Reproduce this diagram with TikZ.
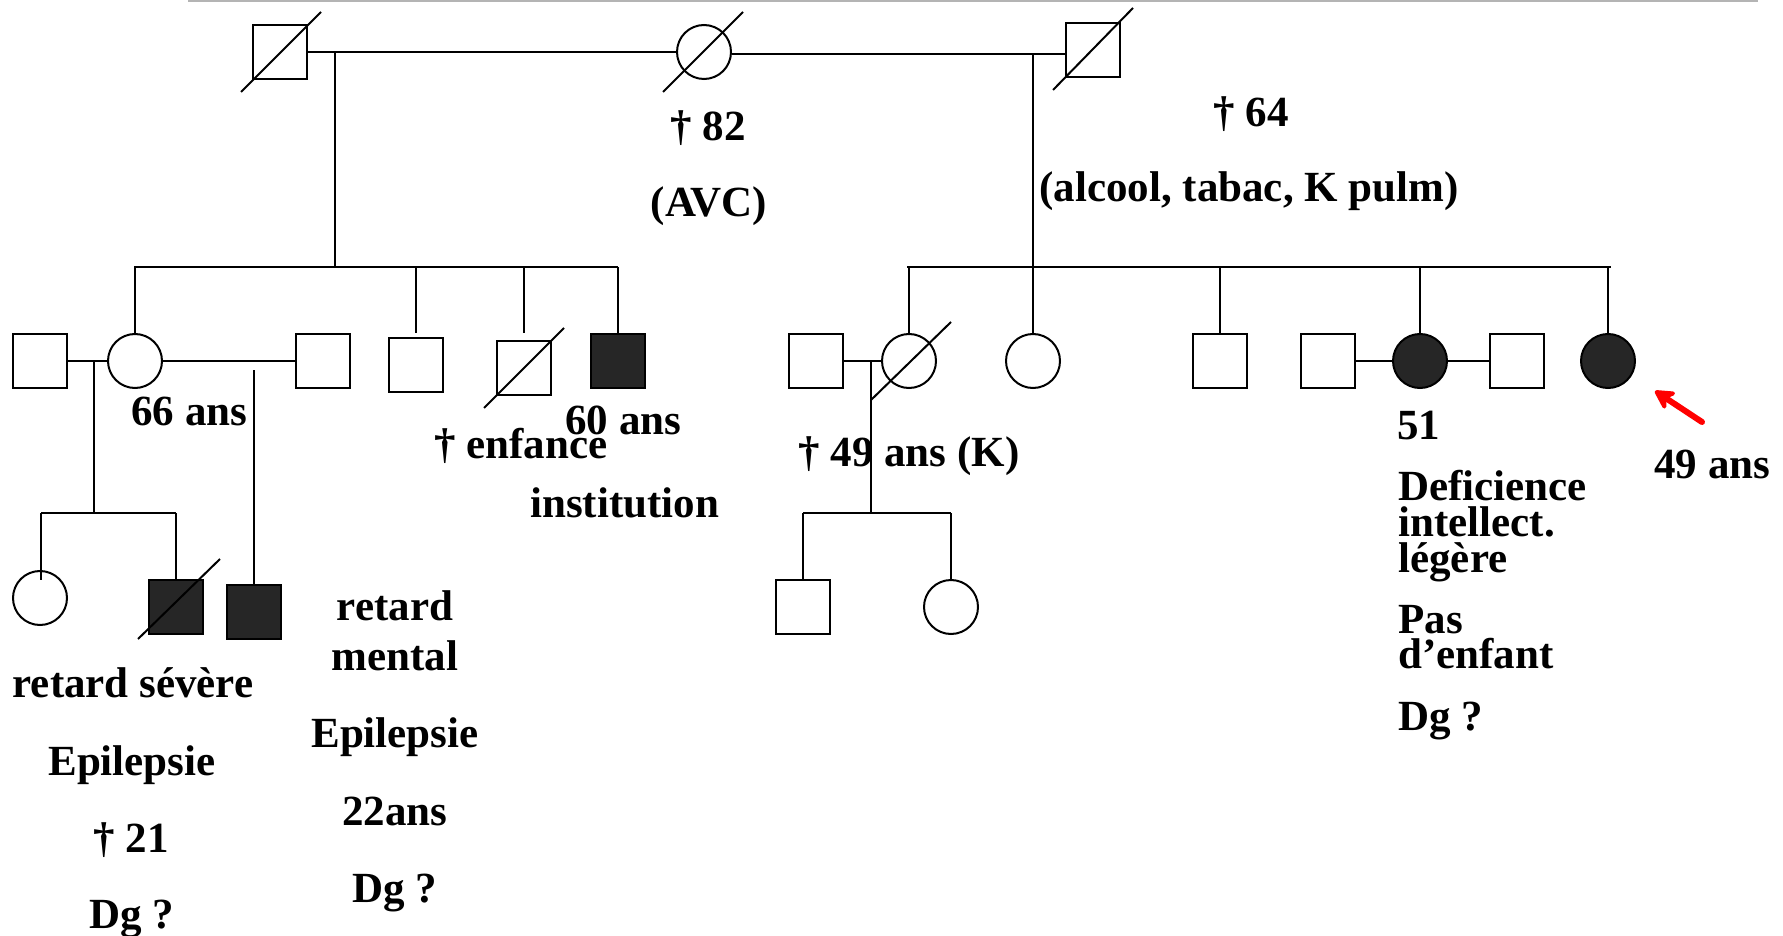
\documentclass[tikz,border=0pt]{standalone}
\usepackage{fontspec}
\setmainfont{Liberation Serif}
\usetikzlibrary{arrows.meta,calc}
\definecolor{aff}{HTML}{262626}
\definecolor{rule}{HTML}{B4B4B4}
\tikzset{
  ln/.style={line width=1pt,black},
  sq/.style={draw,line width=1pt,rectangle,minimum size=27pt,inner sep=0pt},
  ci/.style={draw,line width=1pt,circle,minimum size=27pt,inner sep=0pt},
  affd/.style={fill=aff},
  lbl/.style={font=\fontsize{21.5}{21.5}\selectfont\bfseries,inner sep=0pt},
  lc/.style={lbl,anchor=base},
  lw/.style={lbl,anchor=base west},
  slash/.style={line width=1pt}
}
\begin{document}
\begin{tikzpicture}[x=0.5pt,y=-0.5pt]
\useasboundingbox (0,0) rectangle (1783,936);
\draw[rule,line width=0.8pt] (188,1) -- (1758,1);

% Generation I
\node[sq] (A) at (280,52) {};
\node[ci] (G) at (704,52) {};
\node[sq] (B) at (1093,50) {};
\draw[slash] (A.center) ++(-39,40) -- ++(80,-80);
\draw[slash] (G.center) ++(-41,40) -- ++(80,-80);
\draw[slash] (B.center) ++(-40,40) -- ++(80,-82);
\draw[ln] (A.east) -- (G.west);
\draw[ln] ($(G.east)+(0,2)$) -- ($(B.west)+(0,4)$);
\coordinate (mA) at (335,52);
\coordinate (sA) at (335,267);
\coordinate (mB) at (1033,55);
\coordinate (sB) at (1033,267);
\draw[ln] (mA) -- (sA);
\draw[ln] (mB) -- (sB);

% Generation II left
\node[sq] (L1) at (40,361) {};
\node[ci] (L2) at (135,361) {};
\node[sq] (L3) at (323,361) {};
\node[sq] (L4) at (416,365) {};
\node[sq] (L5) at (524,368) {};
\node[sq,affd] (L6) at (618,361) {};
\draw[slash] (L5.center) ++(-40,40) -- ++(80,-80);
\coordinate (sl1) at (134,267);
\coordinate (sl2) at (618,267);
\draw[ln] (sl1) -- (sl2);
\draw[ln] (L2.north |- sl1) -- (L2.north);
\draw[ln] (L4.north |- sl1) -- ($(L4.north)+(0,-4)$);
\draw[ln] (L5.north |- sl1) -- ($(L5.north)+(0,-7)$);
\draw[ln] (L6.north |- sl1) -- (L6.north);
\draw[ln] (L1.east) -- (L2.west);
\draw[ln] (L2.east) -- (L3.west);

% Generation II right
\node[sq] (R1) at (816,361) {};
\node[ci] (R2) at (909,361) {};
\node[ci] (R3) at (1033,361) {};
\node[sq] (R4) at (1220,361) {};
\node[sq] (R5) at (1328,361) {};
\node[ci,affd] (R6) at (1420,361) {};
\node[sq] (R7) at (1517,361) {};
\node[ci,affd] (R8) at (1608,361) {};
\coordinate (sr1) at (907,267);
\coordinate (sr2) at (1611,267);
\draw[ln] (sr1) -- (sr2);
\foreach \n in {R2,R3,R4,R6,R8}{\draw[ln] (\n.north |- sr1) -- (\n.north);}
\draw[ln] (R1.east) -- (R2.west);
\draw[ln] (R5.east) -- (R6.west);
\draw[ln] (R6.east) -- (R7.west);

% Generation III left
\node[ci] (C1) at (40,598) {};
\node[sq,affd] (C2) at (176,607) {};
\node[sq,affd] (C3) at (254,612) {};
\draw[slash] (C2.center) ++(-38,32) -- ++(82,-80);
\coordinate (m12) at (94,361);
\coordinate (s12) at (94,513);
\draw[ln] (m12) -- (s12);
\coordinate (sc1) at (41,513);
\coordinate (sc2) at (176,513);
\draw[ln] (sc1) -- (sc2);
\draw[ln] (sc1) -- ($(C1.north)+(1,10)$);
\draw[ln] (sc2) -- (C2.north);
\coordinate (m23) at (254,370);
\draw[ln] (m23) -- (C3.north);

% Generation III right
\node[sq] (D1) at (803,607) {};
\node[ci] (D2) at (951,607) {};
\draw[slash] (R2.center) ++(-38,39) -- ++(80,-78);
\coordinate (mR) at (871,361);
\coordinate (sR) at (871,513);
\draw[ln] (mR) -- (sR);
\coordinate (sd1) at (803,513);
\coordinate (sd2) at (951,513);
\draw[ln] (sd1) -- (sd2);
\draw[ln] (sd1) -- (D1.north);
\draw[ln] (sd2) -- (D2.north);

% Arrow
\coordinate (at) at (1702,422);
\coordinate (ah) at (1655,391);
\draw[red,line width=3pt,line cap=round,-{Stealth[length=12pt,width=13pt,inset=4pt,round]}] (at) -- (ah);

% Labels
\node[lc] (t82) at (708,141) {† 82};
\node[lc] (tavc) at (709,217) {(AVC)};
\node[lc] (t64) at (1251,127) {† 64};
\node[lc] (talc) at (1249,202) {(alcool, tabac, K pulm)};
\node[lw] (t66) at (131,425) {66 ans};
\node[lw] (t60) at (565,434) {60 ans};
\node[lw] (tenf) at (434,458) {† enfance};
\node[lw] (tinst) at (530,517) {institution};
\node[lc] (a1) at (133,697) {retard sévère};
\node[lc] (a2) at (132,775) {Epilepsie};
\node[lc] (a3) at (131,852) {† 21};
\node[lc] (a4) at (132,928) {Dg ?};
\node[lc] (b1) at (395,620) {retard};
\node[lc] (b2) at (395,670) {mental};
\node[lc] (b3) at (395,747) {Epilepsie};
\node[lc] (b4) at (395,825) {22ans};
\node[lc] (b5) at (395,902) {Dg ?};
\node[lw] (t49k) at (798,466) {† 49 ans (K)};
\node[lw] (c1) at (1397,439) {51};
\node[lw] (c2) at (1398,500) {Deficience};
\node[lw] (c3) at (1398,536) {intellect.};
\node[lw] (c4) at (1398,572) {légère};
\node[lw] (c5) at (1398,633) {Pas};
\node[lw] (c6) at (1398,668) {d’enfant};
\node[lw] (c7) at (1398,730) {Dg ?};
\node[lw] (t49) at (1654,478) {49 ans};
\end{tikzpicture}
\end{document}
